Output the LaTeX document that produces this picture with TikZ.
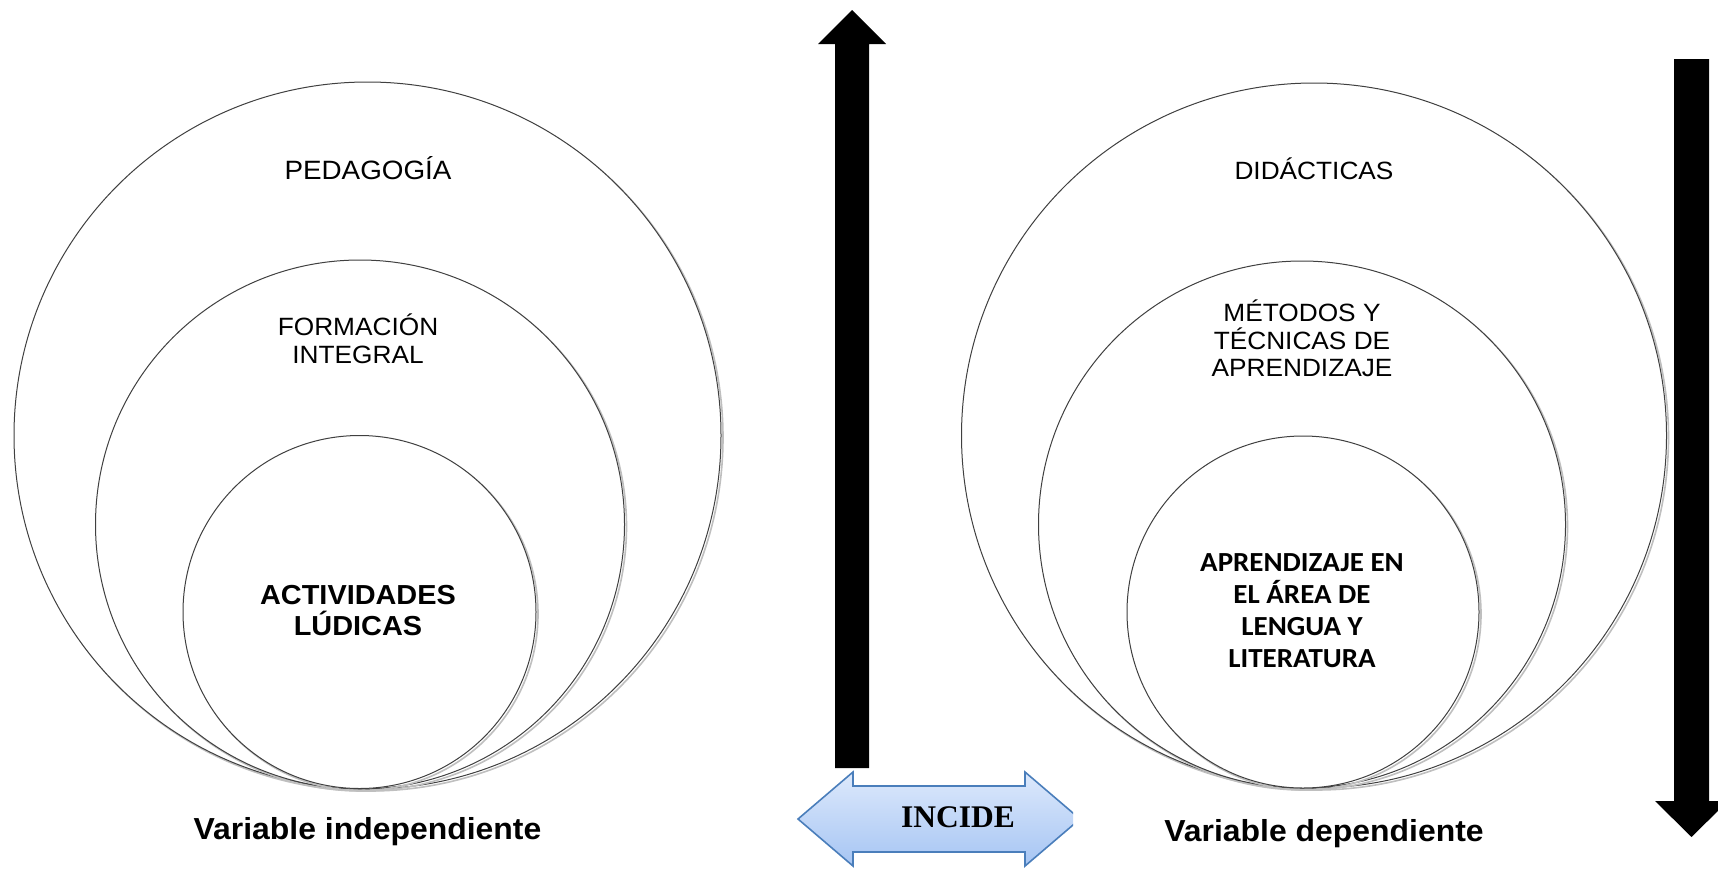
\documentclass[tikz,border=0pt]{standalone}
\usepackage{fontspec}
\setmainfont{Liberation Sans}
\newfontfamily\arialx[FakeStretch=1.05]{Liberation Sans}
\newfontfamily\calibx[FakeStretch=1.05]{Carlito}
\newfontfamily\timesf{Liberation Serif}
\usetikzlibrary{shadings}
\definecolor{arrowblue}{HTML}{4A7EBB}
\definecolor{filltop}{HTML}{DDE9FC}
\definecolor{fillbot}{HTML}{A6C5F3}
\tikzset{
  ring/.style={draw=black!75, line width=1pt, fill=white},
  ringshadow/.style={draw=black!25, line width=1.6pt},
  plainlbl/.style={anchor=base, align=center, font=\arialx\fontsize{25}{27.5}\selectfont, inner sep=0pt},
  boldlbl/.style={anchor=base, align=center, font=\arialx\bfseries\fontsize{27.5}{31}\selectfont, inner sep=0pt},
  calilbl/.style={anchor=base, align=center, font=\calibx\bfseries\fontsize{27.6}{32}\selectfont, inner sep=0pt},
  varlbl/.style={anchor=base, font=\arialx\bfseries\fontsize{30.4}{31}\selectfont, inner sep=0pt},
  bigarrow/.style={fill=black, draw=none},
}
\begin{document}
\begin{tikzpicture}[x=1pt,y=-1pt]
\useasboundingbox (0,0) rectangle (1718,868);
\clip (0,0) rectangle (1718,868);

% ---- left set of circles ----
\draw[ringshadow] (369.5,437.5) circle[radius=353.5pt];
\draw[ring] (367.5,435.5) circle[radius=353.5pt];
\draw[ringshadow] (362,526.5) circle[radius=264.5pt];
\draw[ring] (360,524.5) circle[radius=264.5pt];
\draw[ringshadow] (361.5,614) circle[radius=176.5pt];
\draw[ring] (359.5,612) circle[radius=176.5pt];

% ---- right set of circles ----
\draw[ringshadow] (1316,437.5) circle[radius=352.5pt];
\draw[ring] (1314,435.5) circle[radius=352.5pt];
\draw[ringshadow] (1304,526.5) circle[radius=263.5pt];
\draw[ring] (1302,524.5) circle[radius=263.5pt];
\draw[ringshadow] (1305,614) circle[radius=176pt];
\draw[ring] (1303,612) circle[radius=176pt];

% ---- labels (base = baseline of last line) ----
\node[plainlbl, font=\arialx\fontsize{26.5}{28}\selectfont] (ped) at (368,179.5) {PEDAGOGÍA};
\node[plainlbl, font=\arialx\fontsize{25}{28.5}\selectfont] (form) at (358,363.5) {FORMACIÓN\\INTEGRAL};
\node[boldlbl] (act) at (358,635) {ACTIVIDADES\\LÚDICAS};
\node[plainlbl] (did) at (1314,179) {DIDÁCTICAS};
\node[plainlbl] (met) at (1302,376.5) {MÉTODOS Y\\TÉCNICAS DE\\APRENDIZAJE};
\node[calilbl] (apr) at (1302,667) {APRENDIZAJE EN\\EL ÁREA DE\\LENGUA Y\\LITERATURA};
\node[varlbl] (vind) at (367.5,839) {Variable independiente};
\node[varlbl] (vdep) at (1324,841) {Variable dependiente};

% ---- vertical arrows ----
\coordinate (uptip) at (852,10);
\fill[bigarrow] (835,768) -- (835,44) -- (818,44) -- (uptip) -- (886,44) -- (869,44) -- (869,768) -- cycle;
\coordinate (dntip) at (1691.5,837);
\fill[bigarrow] (1674,59) -- (1709,59) -- (1709,801) -- (1728,801) -- (dntip) -- (1655,801) -- (1674,801) -- cycle;

% ---- INCIDE double arrow ----
\begin{scope}
\clip (700,760) rectangle (1073,868);
\shade[top color=filltop, bottom color=fillbot, draw=arrowblue, line width=1.6pt]
  (798,819) -- (853,772) -- (853,786) -- (1025,786) -- (1025,772) -- (1080,819)
  -- (1025,866) -- (1025,852) -- (853,852) -- (853,866) -- cycle;
\end{scope}
\node[anchor=base, font=\timesf\bfseries\fontsize{31.5}{32}\selectfont, inner sep=0pt] (inc) at (958,827) {INCIDE};
\end{tikzpicture}
\end{document}
